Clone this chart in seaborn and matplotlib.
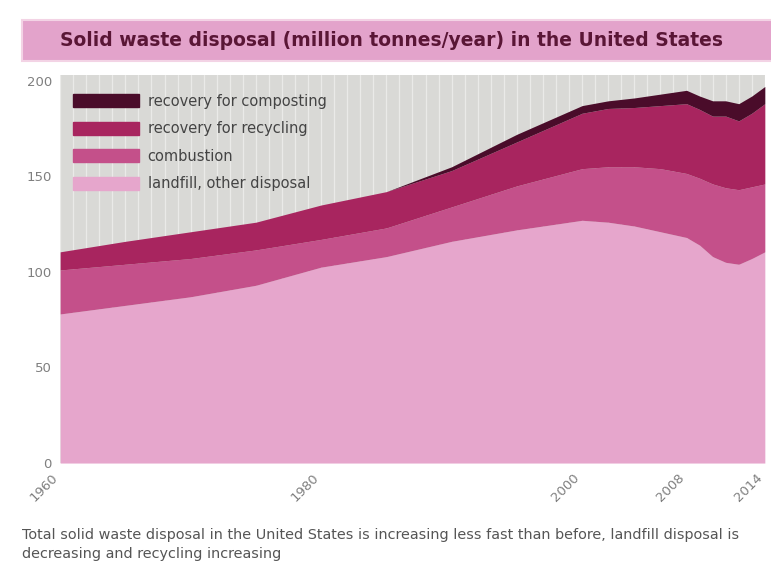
import numpy as np
import pandas as pd
import matplotlib
matplotlib.use("Agg")
import matplotlib.pyplot as plt
import seaborn as sns
from matplotlib.patches import Rectangle, Patch

# values (million tonnes/year)
years = [1960, 1965, 1970, 1975, 1980, 1985, 1990, 1995, 2000, 2002, 2004,
         2006, 2008, 2009, 2010, 2011, 2012, 2013, 2014]
landfill = [78, 82.5, 87, 93, 102.5, 108, 116, 122, 127, 126, 124,
            121, 118, 114, 108, 105, 104, 107, 110.5]
combustion = [23, 21.5, 20, 18.5, 14.5, 15, 18, 23, 27, 29, 31,
              33, 33.5, 35, 38, 39, 39, 37.5, 35.5]
recycling = [9.5, 12, 14, 14.5, 18, 19, 19, 23, 29, 30.5, 31,
             33, 36.5, 36, 35.5, 37.5, 36, 38.5, 42]
composting = [0, 0, 0, 0, 0, 0, 2, 4, 4, 4, 5, 6, 7, 7, 8, 8, 9, 9, 9]

labels = ["landfill, other disposal", "combustion",
          "recovery for recycling", "recovery for composting"]
colors = ["#e6a6cc", "#c4508a", "#a8255f", "#4a0c2a"]
xticks = [1960, 1980, 2000, 2008, 2014]
yticks = [0, 50, 100, 150, 200]

df = pd.DataFrame({"year": years, labels[0]: landfill, labels[1]: combustion,
                   labels[2]: recycling, labels[3]: composting})

sns.set_style("white")
fig = plt.figure(figsize=(7.71, 5.64), dpi=100)
ax = fig.add_axes([0.078, 0.179, 0.914, 0.688])
ax.set_facecolor("#d9d9d6")

# light vertical stripes in the background
for yr in range(1960, 2015):
    ax.axvline(yr, color="white", alpha=0.45, lw=0.9, zorder=0)

ax.stackplot(df["year"], [df[c] for c in labels], colors=colors,
             labels=labels, zorder=2, linewidth=0)

ax.set_xlim(1960, 2014)
ax.set_ylim(0, 203)
ax.set_xticks(xticks)
ax.set_xticklabels([str(t) for t in xticks], rotation=45, ha="right",
                   color="#7f7f7f", fontsize=9.5)
ax.set_yticks(yticks)
ax.set_yticklabels([str(t) for t in yticks], color="#7f7f7f", fontsize=9.5)
ax.tick_params(axis="both", length=0, pad=6)
for s in ax.spines.values():
    s.set_visible(False)

handles = [Patch(color=colors[i], label=labels[i]) for i in [3, 2, 1, 0]]
ax.legend(handles=handles, loc="upper left", frameon=False, fontsize=10.5,
          handlelength=4.5, handleheight=1.0, labelspacing=0.85,
          handletextpad=0.6, bbox_to_anchor=(0.0, 0.985), labelcolor="#444444")

# title banner
fig.patches.append(Rectangle((0.028, 0.892), 0.98, 0.073, transform=fig.transFigure,
                             facecolor="#e3a3cb", edgecolor="#f3d3e5", lw=1.5))
fig.text(0.078, 0.929, "Solid waste disposal (million tonnes/year) in the United States",
         fontsize=13.5, color="#5a1636", va="center", fontweight="bold")

fig.text(0.028, 0.052, "Total solid waste disposal in the United States is increasing less fast than before, landfill disposal is",
         fontsize=10.4, color="#555555", va="center")
fig.text(0.028, 0.017, "decreasing and recycling increasing",
         fontsize=10.4, color="#555555", va="center")

fig.savefig("out.png", dpi=100)
